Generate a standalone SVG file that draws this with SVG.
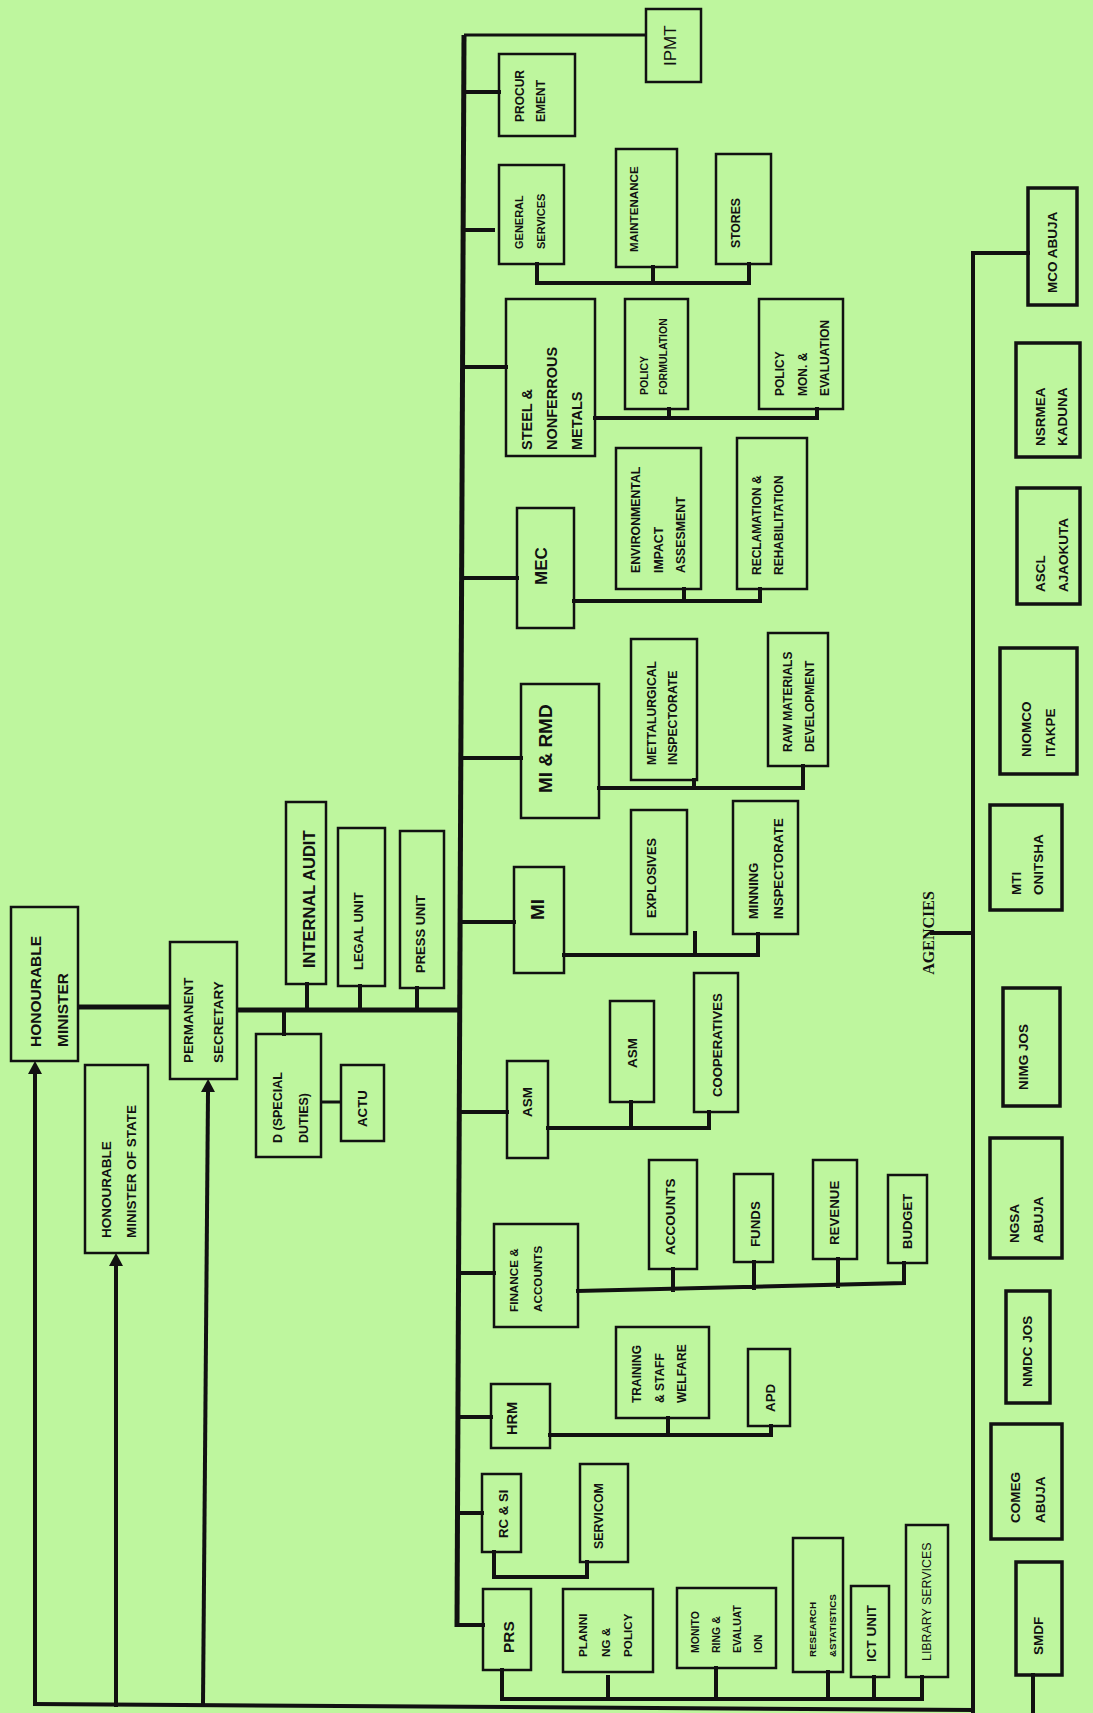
<svg xmlns="http://www.w3.org/2000/svg" width="1093" height="1713" viewBox="0 0 1093 1713">
<defs>
<style>
.bx{fill:none;stroke:#111;stroke-width:2.5}
.ag{fill:none;stroke:#111;stroke-width:3.5}
.t{font-family:"Liberation Sans",Arial,sans-serif;font-weight:bold;fill:#111}
.r{font-family:"Liberation Sans",Arial,sans-serif;font-weight:normal;fill:#111}
.c{fill:none;stroke:#111;stroke-width:4;stroke-linecap:square}
.m{fill:none;stroke:#111;stroke-width:5}
.th{fill:none;stroke:#111;stroke-width:3}
</style>
<marker id="ah" markerUnits="userSpaceOnUse" markerWidth="13" markerHeight="14" refX="0" refY="7" orient="auto">
<path d="M0,0 L13,7 L0,14 Z" fill="#111"/>
</marker>
</defs>
<rect x="0" y="0" width="1093" height="1713" fill="#bef69e"/>

<g id="connectors">
<path class="m" d="M464,35 L457,1627"/>
<path class="th" d="M464,35 H646"/>
<path class="c" d="M464,92 H499"/>
<path class="c" d="M464,230 H493"/>
<path class="c" d="M537,264 V283 H749 V264 M653,267 V283"/>
<path class="c" d="M464,367 H506"/>
<path class="c" d="M595,418 H817 V409 M669,409 V418"/>
<path class="c" d="M462,578 H517"/>
<path class="c" d="M574,601 H760 V589 M684,589 V601"/>
<path class="c" d="M461,758 H521"/>
<path class="c" d="M599,788 H803 V766 M694,780 V788"/>
<path class="c" d="M461,922 H514"/>
<path class="c" d="M564,955 H758 V934 M695,933 V955"/>
<path class="m" d="M237,1010 H460"/>
<path class="c" d="M307,984 V1010 M360,986 V1010 M417,988 V1010 M284,1010 V1034"/>
<path class="th" d="M321,1102 H341"/>
<path class="m" d="M78,1007 H170"/>
<path class="c" d="M459,1112 H507"/>
<path class="c" d="M548,1128 H709 V1112 M631,1102 V1128"/>
<path class="c" d="M459,1273 H494"/>
<path class="c" d="M578,1291 L904,1283 V1263 M673,1269 V1290 M754,1262 V1288 M838,1259 V1286"/>
<path class="c" d="M458,1417 H491"/>
<path class="c" d="M550,1435 H771 V1426 M668,1418 V1435"/>
<path class="c" d="M458,1513 H482"/>
<path class="c" d="M494,1552 V1577 H587 V1562"/>
<path class="c" d="M457,1625 H483"/>
<path class="c" d="M502,1670 V1699 H922 V1677 M608,1677 V1699 M716,1668 V1699 M828,1672 V1699 M874,1677 V1699"/>
<path class="c" d="M35,1704 L973,1710"/>
<path class="c" d="M35,1704 V1074" marker-end="url(#ah)"/>
<path class="c" d="M116,1705 V1266" marker-end="url(#ah)"/>
<path class="c" d="M203,1705 L208,1092" marker-end="url(#ah)"/>
<path class="c" d="M973,253 V1713 M973,253 H1028 M932,933 H973 M1033,1675 V1713"/>
</g>

<g id="honourable-minister"><rect class="bx" x="11" y="907" width="67" height="154"/>
<text class="t" font-size="15.5" transform="translate(40.5,1047) rotate(-90)"><tspan x="0" y="0">HONOURABLE</tspan><tspan x="0" y="27">MINISTER</tspan></text></g>
<g id="minister-of-state"><rect class="bx" x="85" y="1065" width="63" height="188"/>
<text class="t" font-size="13.5" transform="translate(110.8,1238) rotate(-90)"><tspan x="0" y="0">HONOURABLE</tspan><tspan x="0" y="25">MINISTER OF STATE</tspan></text></g>
<g id="permanent-secretary"><rect class="bx" x="170" y="942" width="67" height="137"/>
<text class="t" font-size="13.5" transform="translate(192.8,1063) rotate(-90)"><tspan x="0" y="0">PERMANENT</tspan><tspan x="0" y="30">SECRETARY</tspan></text></g>
<g id="d-special-duties"><rect class="bx" x="256" y="1034" width="65" height="123"/>
<text class="t" font-size="12.5" transform="translate(281.5,1143) rotate(-90)"><tspan x="0" y="0">D (SPECIAL</tspan><tspan x="0" y="26">DUTIES)</tspan></text></g>
<g id="actu"><rect class="bx" x="341" y="1065" width="43" height="76"/>
<text class="t" font-size="13.3" transform="translate(366.8,1127) rotate(-90)">ACTU</text></g>
<g id="internal-audit"><rect class="bx" x="286" y="802" width="40" height="182"/>
<text class="t" font-size="16.5" transform="translate(314.9,968) rotate(-90)">INTERNAL AUDIT</text></g>
<g id="legal-unit"><rect class="bx" x="338" y="828" width="47" height="158"/>
<text class="t" font-size="13" transform="translate(362.7,970) rotate(-90)">LEGAL UNIT</text></g>
<g id="press-unit"><rect class="bx" x="400" y="831" width="44" height="157"/>
<text class="t" font-size="13" transform="translate(424.7,973) rotate(-90)">PRESS UNIT</text></g>

<g id="ipmt"><rect class="bx" x="646" y="9" width="55" height="73"/>
<text class="r" font-size="17" transform="translate(676,66) rotate(-90)">IPMT</text></g>
<g id="procurement"><rect class="bx" x="499" y="54" width="76" height="82"/>
<text class="t" font-size="12" transform="translate(524.3,122) rotate(-90)"><tspan x="0" y="0">PROCUR</tspan><tspan x="0" y="21">EMENT</tspan></text></g>
<g id="general-services"><rect class="bx" x="499" y="165" width="65" height="99"/>
<text class="t" font-size="11" transform="translate(522.9,249) rotate(-90)"><tspan x="0" y="0">GENERAL</tspan><tspan x="0" y="22">SERVICES</tspan></text></g>
<g id="maintenance"><rect class="bx" x="616" y="149" width="61" height="118"/>
<text class="t" font-size="11.6" transform="translate(638.2,252) rotate(-90)">MAINTENANCE</text></g>
<g id="stores"><rect class="bx" x="716" y="154" width="55" height="110"/>
<text class="t" font-size="12.2" transform="translate(740.4,248) rotate(-90)">STORES</text></g>
<g id="steel"><rect class="bx" x="506" y="299" width="89" height="157"/>
<text class="t" font-size="14.5" transform="translate(532.2,450) rotate(-90)"><tspan x="0" y="0">STEEL &amp;</tspan><tspan x="0" y="25">NONFERROUS</tspan><tspan x="0" y="50">METALS</tspan></text></g>
<g id="policy-formulation"><rect class="bx" x="625" y="299" width="63" height="110"/>
<text class="t" font-size="10.5" transform="translate(647.8,395) rotate(-90)"><tspan x="0" y="0">POLICY</tspan><tspan x="0" y="19">FORMULATION</tspan></text></g>
<g id="policy-mon-eval"><rect class="bx" x="759" y="299" width="84" height="110"/>
<text class="t" font-size="12" transform="translate(784.3,396) rotate(-90)"><tspan x="0" y="0">POLICY</tspan><tspan x="0" y="22.5">MON. &amp;</tspan><tspan x="0" y="45">EVALUATION</tspan></text></g>
<g id="mec"><rect class="bx" x="517" y="508" width="57" height="120"/>
<text class="t" font-size="17" transform="translate(547.1,585) rotate(-90)">MEC</text></g>
<g id="eia"><rect class="bx" x="616" y="448" width="85" height="141"/>
<text class="t" font-size="12.3" transform="translate(640.4,573) rotate(-90)"><tspan x="0" y="0">ENVIRONMENTAL</tspan><tspan x="0" y="22.5">IMPACT</tspan><tspan x="0" y="45">ASSESMENT</tspan></text></g>
<g id="reclamation"><rect class="bx" x="737" y="438" width="70" height="151"/>
<text class="t" font-size="12" transform="translate(761.3,575) rotate(-90)"><tspan x="0" y="0">RECLAMATION &amp;</tspan><tspan x="0" y="22">REHABILITATION</tspan></text></g>
<g id="mi-rmd"><rect class="bx" x="521" y="684" width="78" height="134"/>
<text class="t" font-size="19" transform="translate(551.8,793) rotate(-90)">MI &amp; RMD</text></g>
<g id="mettalurgical"><rect class="bx" x="631" y="639" width="66" height="141"/>
<text class="t" font-size="12.2" transform="translate(656.4,765) rotate(-90)"><tspan x="0" y="0">METTALURGICAL</tspan><tspan x="0" y="21">INSPECTORATE</tspan></text></g>
<g id="raw-materials"><rect class="bx" x="768" y="633" width="60" height="133"/>
<text class="t" font-size="12" transform="translate(792.3,752) rotate(-90)"><tspan x="0" y="0">RAW MATERIALS</tspan><tspan x="0" y="22">DEVELOPMENT</tspan></text></g>
<g id="mi"><rect class="bx" x="514" y="867" width="50" height="106"/>
<text class="t" font-size="19" transform="translate(543.8,920) rotate(-90)">MI</text></g>
<g id="explosives"><rect class="bx" x="631" y="810" width="56" height="124"/>
<text class="t" font-size="12.6" transform="translate(655.5,918) rotate(-90)">EXPLOSIVES</text></g>
<g id="minning"><rect class="bx" x="733" y="801" width="65" height="133"/>
<text class="t" font-size="13" transform="translate(757.7,919) rotate(-90)"><tspan x="0" y="0">MINNING</tspan><tspan x="0" y="25">INSPECTORATE</tspan></text></g>
<g id="asm"><rect class="bx" x="507" y="1061" width="41" height="97"/>
<text class="t" font-size="13.5" transform="translate(531.8,1117) rotate(-90)">ASM</text></g>
<g id="asm-unit"><rect class="bx" x="610" y="1001" width="44" height="101"/>
<text class="t" font-size="13.5" transform="translate(636.8,1068) rotate(-90)">ASM</text></g>
<g id="cooperatives"><rect class="bx" x="694" y="973" width="44" height="139"/>
<text class="t" font-size="13.2" transform="translate(721.7,1097) rotate(-90)">COOPERATIVES</text></g>
<g id="finance-accounts"><rect class="bx" x="494" y="1224" width="84" height="103"/>
<text class="t" font-size="11.7" transform="translate(518.2,1312) rotate(-90)"><tspan x="0" y="0">FINANCE &amp;</tspan><tspan x="0" y="24">ACCOUNTS</tspan></text></g>
<g id="accounts"><rect class="bx" x="649" y="1160" width="48" height="109"/>
<text class="t" font-size="13.5" transform="translate(674.8,1255) rotate(-90)">ACCOUNTS</text></g>
<g id="funds"><rect class="bx" x="734" y="1174" width="39" height="88"/>
<text class="t" font-size="13.3" transform="translate(759.8,1247) rotate(-90)">FUNDS</text></g>
<g id="revenue"><rect class="bx" x="813" y="1160" width="44" height="99"/>
<text class="t" font-size="13.3" transform="translate(838.8,1245) rotate(-90)">REVENUE</text></g>
<g id="budget"><rect class="bx" x="888" y="1175" width="39" height="88"/>
<text class="t" font-size="13.1" transform="translate(911.7,1249) rotate(-90)">BUDGET</text></g>
<g id="hrm"><rect class="bx" x="491" y="1384" width="59" height="64"/>
<text class="t" font-size="14.6" transform="translate(517.2,1435) rotate(-90)">HRM</text></g>
<g id="training"><rect class="bx" x="616" y="1327" width="93" height="91"/>
<text class="t" font-size="12" transform="translate(641.3,1403) rotate(-90)"><tspan x="0" y="0">TRAINING</tspan><tspan x="0" y="22.5">&amp; STAFF</tspan><tspan x="0" y="45">WELFARE</tspan></text></g>
<g id="apd"><rect class="bx" x="748" y="1349" width="42" height="77"/>
<text class="t" font-size="13.4" transform="translate(774.8,1412) rotate(-90)">APD</text></g>
<g id="rc-si"><rect class="bx" x="482" y="1474" width="39" height="78"/>
<text class="t" font-size="13.2" transform="translate(507.7,1538) rotate(-90)">RC &amp; SI</text></g>
<g id="servicom"><rect class="bx" x="580" y="1464" width="48" height="98"/>
<text class="t" font-size="12.4" transform="translate(603.4,1549) rotate(-90)">SERVICOM</text></g>
<g id="prs"><rect class="bx" x="483" y="1589" width="48" height="81"/>
<text class="t" font-size="15.5" transform="translate(513.5,1653) rotate(-90)">PRS</text></g>
<g id="planning"><rect class="bx" x="563" y="1589" width="90" height="83"/>
<text class="t" font-size="11.7" transform="translate(587.2,1657) rotate(-90)"><tspan x="0" y="0">PLANNI</tspan><tspan x="0" y="22.5">NG &amp;</tspan><tspan x="0" y="45">POLICY</tspan></text></g>
<g id="monitoring"><rect class="bx" x="677" y="1588" width="99" height="80"/>
<text class="t" font-size="10.5" transform="translate(698.8,1653) rotate(-90)"><tspan x="0" y="0">MONITO</tspan><tspan x="0" y="21">RING &amp;</tspan><tspan x="0" y="42">EVALUAT</tspan><tspan x="0" y="63">ION</tspan></text></g>
<g id="research"><rect class="bx" x="793" y="1538" width="50" height="134"/>
<text class="t" font-size="9.8" transform="translate(815.5,1657) rotate(-90)"><tspan x="0" y="0">RESEARCH</tspan><tspan x="0" y="20">&amp;STATISTICS</tspan></text></g>
<g id="ict-unit"><rect class="bx" x="851" y="1586" width="38" height="91"/>
<text class="t" font-size="13.5" transform="translate(875.8,1662) rotate(-90)">ICT UNIT</text></g>
<g id="library"><rect class="bx" x="906" y="1525" width="42" height="152"/>
<text class="r" font-size="12.4" transform="translate(931.4,1661) rotate(-90)">LIBRARY SERVICES</text></g>

<g id="agencies-label"><text font-family="'Liberation Serif','Times New Roman',serif" font-weight="bold" font-size="16" fill="#111" text-anchor="middle" transform="translate(933.5,933) rotate(-90)">AGENCIES</text></g>
<g id="mco-abuja"><rect class="ag" x="1028" y="188" width="49" height="117"/>
<text class="t" font-size="13.5" transform="translate(1056.8,293) rotate(-90)">MCO ABUJA</text></g>
<g id="nsrmea-kaduna"><rect class="ag" x="1016" y="343" width="64" height="114"/>
<text class="t" font-size="13.5" transform="translate(1044.8,446) rotate(-90)"><tspan x="0" y="0">NSRMEA</tspan><tspan x="0" y="22">KADUNA</tspan></text></g>
<g id="ascl-ajaokuta"><rect class="ag" x="1017" y="488" width="63" height="116"/>
<text class="t" font-size="13.5" transform="translate(1044.8,592) rotate(-90)"><tspan x="0" y="0">ASCL</tspan><tspan x="0" y="23">AJAOKUTA</tspan></text></g>
<g id="niomco-itakpe"><rect class="ag" x="1000" y="648" width="77" height="126"/>
<text class="t" font-size="13.5" transform="translate(1030.8,757) rotate(-90)"><tspan x="0" y="0">NIOMCO</tspan><tspan x="0" y="24">ITAKPE</tspan></text></g>
<g id="mti-onitsha"><rect class="ag" x="990" y="805" width="72" height="105"/>
<text class="t" font-size="13.5" transform="translate(1020.8,895) rotate(-90)"><tspan x="0" y="0">MTI</tspan><tspan x="0" y="22">ONITSHA</tspan></text></g>
<g id="nimg-jos"><rect class="ag" x="1003" y="988" width="57" height="118"/>
<text class="t" font-size="13.5" transform="translate(1027.8,1090) rotate(-90)">NIMG JOS</text></g>
<g id="ngsa-abuja"><rect class="ag" x="990" y="1138" width="72" height="120"/>
<text class="t" font-size="13.5" transform="translate(1018.8,1243) rotate(-90)"><tspan x="0" y="0">NGSA</tspan><tspan x="0" y="24">ABUJA</tspan></text></g>
<g id="nmdc-jos"><rect class="ag" x="1006" y="1291" width="44" height="112"/>
<text class="t" font-size="13.5" transform="translate(1031.8,1387) rotate(-90)">NMDC JOS</text></g>
<g id="comeg-abuja"><rect class="ag" x="991" y="1424" width="71" height="115"/>
<text class="t" font-size="13.5" transform="translate(1019.8,1523) rotate(-90)"><tspan x="0" y="0">COMEG</tspan><tspan x="0" y="25">ABUJA</tspan></text></g>
<g id="smdf"><rect class="ag" x="1016" y="1562" width="46" height="113"/>
<text class="t" font-size="13.5" transform="translate(1042.8,1655) rotate(-90)">SMDF</text></g>
</svg>
